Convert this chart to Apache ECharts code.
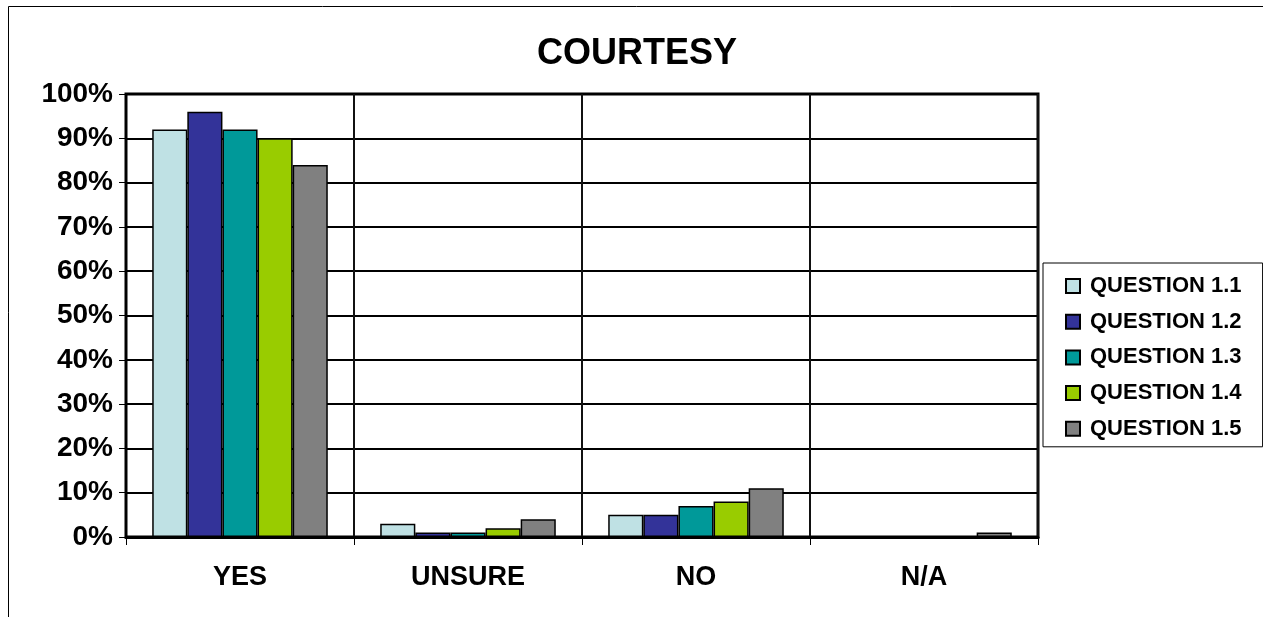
<!DOCTYPE html>
<html>
<head>
<meta charset="utf-8">
<script src="https://cdn.jsdelivr.net/npm/echarts@6/dist/echarts.min.js"></script>
<style>
  html, body { margin: 0; padding: 0; background: #fff; }
  #chart { width: 1263px; height: 617px; }
</style>
</head>
<body>
<div id="chart"></div>
<script>
// Response categories on the x axis
const categories = ['YES', 'UNSURE', 'NO', 'N/A'];

// Share of responses (%) per question
const q11 = [92, 3, 5, 0];
const q12 = [96, 1, 5, 0];
const q13 = [92, 1, 7, 0];
const q14 = [90, 2, 8, 0];
const q15 = [84, 4, 11, 1];

const seriesNames = ['QUESTION 1.1', 'QUESTION 1.2', 'QUESTION 1.3', 'QUESTION 1.4', 'QUESTION 1.5'];
const seriesData = [q11, q12, q13, q14, q15];
const colors = ['#BFE1E4', '#333399', '#009999', '#99CC00', '#808080'];

const FONT = '"Liberation Sans", Arial, sans-serif';

const chart = echarts.init(document.getElementById('chart'), null, { renderer: 'canvas' });

chart.setOption({
  animation: false,
  backgroundColor: '#fff',
  title: {
    text: 'COURTESY',
    left: 632,
    textAlign: 'center',
    top: 31,
    textStyle: { fontFamily: FONT, fontWeight: 'bold', fontSize: 36, color: '#000' }
  },
  graphic: [{
    type: 'rect',
    shape: { x: 8.5, y: 6.5, width: 1300, height: 700 },
    style: { fill: 'none', stroke: '#000', lineWidth: 1 },
    z: -1
  }],
  legend: {
    orient: 'vertical',
    left: 1043,
    top: 263,
    padding: [12, 21, 7, 22],
    itemWidth: 14,
    itemHeight: 14,
    itemGap: 13.7,
    borderColor: '#000',
    borderWidth: 1,
    textStyle: {
      fontFamily: FONT, fontWeight: 'bold', fontSize: 22, color: '#000',
      padding: [0, 0, 0, 5]
    },
    data: seriesNames.map(n => ({ name: n, icon: 'rect' }))
  },
  grid: {
    left: 126, right: 225, top: 94, bottom: 80,
    show: true, borderColor: '#000', borderWidth: 3, containLabel: false
  },
  xAxis: {
    type: 'category',
    data: categories,
    boundaryGap: true,
    axisLine: { lineStyle: { color: '#000', width: 3 } },
    axisTick: { show: true, length: 8, lineStyle: { color: '#000', width: 1 } },
    splitLine: { show: true, lineStyle: { color: '#111', width: 2 } },
    axisLabel: { fontFamily: FONT, fontWeight: 'bold', fontSize: 27, color: '#000', margin: 27 }
  },
  yAxis: {
    type: 'value',
    min: 0, max: 100, interval: 10,
    axisLine: { show: true, lineStyle: { color: '#000', width: 2 } },
    axisTick: { show: true, length: 7, lineStyle: { color: '#000' } },
    splitLine: { show: true, lineStyle: { color: '#000', width: 2 } },
    axisLabel: { formatter: '{value}%', fontFamily: FONT, fontWeight: 'bold', fontSize: 28, color: '#000', margin: 13 }
  },
  series: seriesNames.map((name, i) => ({
    name,
    type: 'bar',
    data: seriesData[i],
    barGap: '0%',
    barCategoryGap: '23%',
    itemStyle: { color: colors[i], borderColor: '#000', borderWidth: 1.5 }
  }))
});
</script>
</body>
</html>
